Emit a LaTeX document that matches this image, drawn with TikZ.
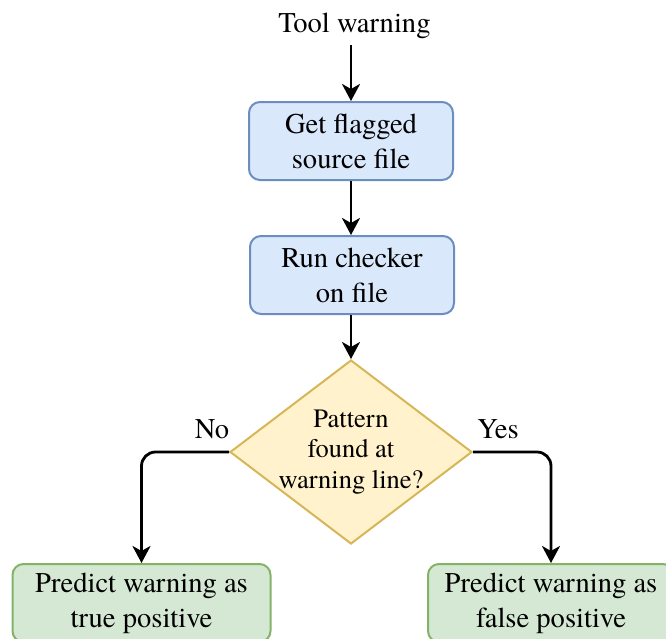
\documentclass[tikz,border=0pt]{standalone}
\usepackage{fontspec}
\setmainfont{TeX Gyre Termes}
\usetikzlibrary{arrows.meta,shapes.geometric}
\definecolor{blueFill}{HTML}{DAE8FC}
\definecolor{blueLine}{HTML}{6C8EBF}
\definecolor{yellowFill}{HTML}{FFF2CC}
\definecolor{yellowLine}{HTML}{D6B656}
\definecolor{greenFill}{HTML}{D5E8D4}
\definecolor{greenLine}{HTML}{82B366}
\tikzset{
  txt/.style={font=\fontsize{28.6}{35}\selectfont, align=center, inner sep=0pt},
  stepbox/.style={txt, rectangle, rounded corners=11pt, line width=2pt,
    minimum width=204pt, minimum height=78pt},
  process/.style={stepbox, fill=blueFill, draw=blueLine},
  outcome/.style={stepbox, fill=greenFill, draw=greenLine},
  decision/.style={diamond, fill=yellowFill, draw=yellowLine, line width=2pt,
    inner sep=0pt, minimum width=242pt, minimum height=184pt},
  flow/.style={line width=2.8pt, -{Stealth[length=17pt, width=18pt, inset=5pt]}},
}
\begin{document}
\begin{tikzpicture}[x=1pt, y=1pt]
  \useasboundingbox (0,0) rectangle (666,-638);
  \clip (0,0) rectangle (666,-638);

  % start label
  \node[txt, anchor=base] (start) at (354.5,-32) {Tool warning};
  \coordinate (startEnd) at (351,-45);

  % processing steps
  \node[process] (fetch) at (351,-141) {Get flagged\\source file};
  \node[process] (check) at (352,-275) {Run checker\\on file};

  % decision
  \node[decision] (dec) at (351,-452) {};
  \node[txt, font=\fontsize{26.5}{30.5}\selectfont] at (dec) {Pattern\\found at\\warning line?};

  % outcomes (bottom edge runs past the page)
  \node[outcome, minimum width=258pt, anchor=north] (tp) at (141.5,-563)
    {Predict warning as\\true positive};
  \node[outcome, minimum width=246pt, anchor=north] (fp) at (551,-563)
    {Predict warning as\\false positive};

  % connectors
  \draw[flow] (startEnd) -- (startEnd |- fetch.north);
  \draw[flow] (fetch.south -| startEnd) -- (check.north -| startEnd);
  \draw[flow] (check.south -| dec.north) -- (dec.north);
  \draw[flow, rounded corners=14pt] (dec.west) -| (tp.north);
  \draw[flow, rounded corners=14pt] (dec.east) -| (fp.north);

  % branch labels
  \node[txt, anchor=base] (noLbl) at (212,-438) {No};
  \node[txt, anchor=base] (yesLbl) at (498,-438) {Yes};
\end{tikzpicture}
\end{document}
